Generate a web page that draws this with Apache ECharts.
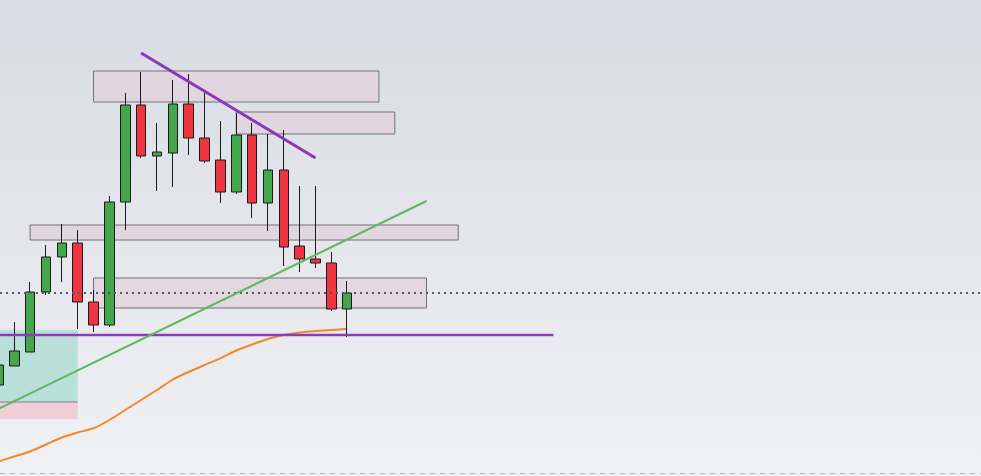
<!DOCTYPE html>
<html>
<head>
<meta charset="utf-8">
<script src="https://cdn.jsdelivr.net/npm/echarts@6/dist/echarts.min.js"></script>
<style>
  html, body { margin: 0; padding: 0; }
  #chart { width: 981px; height: 476px; }
</style>
</head>
<body>
<div id="chart"></div>
<script>
// bar index -> [open, close, low, high]
var candles = [
    [1991, 2011, 1988, 2013],
    [2010, 2025, 2010, 2054],
    [2024, 2084, 2024, 2094],
    [2084, 2119, 2081, 2131],
    [2119, 2133, 2094, 2152],
    [2133, 2074, 2047, 2146],
    [2074, 2051, 2044, 2086],
    [2051, 2174, 2049, 2180],
    [2174, 2271, 2146, 2283],
    [2271, 2220, 2218, 2304],
    [2220, 2224, 2185, 2253],
    [2223, 2272, 2189, 2296],
    [2272, 2238, 2221, 2302],
    [2238, 2215, 2213, 2284],
    [2216, 2184, 2173, 2255],
    [2184, 2241, 2182, 2263],
    [2241, 2173, 2158, 2253],
    [2173, 2206, 2145, 2242],
    [2206, 2129, 2110, 2246],
    [2130, 2117, 2104, 2190],
    [2117, 2113, 2108, 2190],
    [2113, 2067, 2065, 2124],
    [2067, 2083, 2039, 2095]
];
// moving average, one value per bar
var maValues = [1914.5, 1919.5, 1924.5, 1931.5, 1938.5, 1943.5, 1947.7, 1956, 1966, 1976,
    1986, 1996.5, 2004, 2011, 2017.7, 2025.5, 2031.5, 2037, 2041, 2043.5, 2045, 2046, 2047.3];
// zones: [fromBar, toBar, low, high]
var zones = [
    [6, 24, 2274, 2305],
    [15, 25, 2242, 2264],
    [2, 29, 2136, 2151],
    [6, 27, 2068, 2098]
];
// long position tool: [fromBar, toBar, stop, entry, target]
var position = [-2, 5, 1957, 1974, 2046];
var resistLine = [[9, 2323], [20, 2218]];
var supportLine = [[0, 1967], [27, 2175]];
var levelLine = [[-2, 2041], [35, 2041]];
var lastPrice = 2083;
var baseLine = 1903;

var candleData = candles.map(function (c, i) { return [i, c[0], c[1], c[2], c[3]]; });
var maData = maValues.map(function (v, i) { return [i, v]; });

var chart = echarts.init(document.getElementById('chart'));
var option = {
    animation: false,
    backgroundColor: {
        type: 'linear', x: 0, y: 0, x2: 0, y2: 1,
        colorStops: [{offset: 0, color: '#d8dbe3'}, {offset: 1, color: '#f0f1f4'}]
    },
    grid: {left: 0, right: 0, top: 0, bottom: 0},
    xAxis: {type: 'value', min: 0.1, max: 61.97, show: false},
    yAxis: {type: 'value', min: 1900, max: 2376, show: false},
    series: [
        {
            // position tool + zones
            type: 'line', data: [], z: 1, silent: true,
            markArea: {
                silent: true,
                data: [
                    [{coord: [position[0], position[3]], itemStyle: {color: 'rgba(178,221,215,0.85)'}},
                     {coord: [position[1], position[4]]}],
                    [{coord: [position[0], position[2]], itemStyle: {color: 'rgba(240,200,210,0.85)'}},
                     {coord: [position[1], position[3]]}]
                ].concat(zones.map(function (z) {
                    return [{coord: [z[0], z[2]], itemStyle: {color: 'rgba(225,210,222,0.75)', borderColor: '#707078', borderWidth: 1}},
                            {coord: [z[1], z[3]]}];
                }))
            },
            markLine: {
                silent: true, symbol: 'none', label: {show: false},
                data: [
                    {yAxis: lastPrice, lineStyle: {color: '#555a60', width: 2, type: [2, 4]}},
                    {yAxis: baseLine, lineStyle: {color: '#b4b7be', width: 1, type: [5, 5]}}
                ]
            }
        },
        {
            // entry line of the position tool
            type: 'line', data: [[position[0], position[3]], [position[1], position[3]]],
            showSymbol: false, z: 2, silent: true,
            lineStyle: {color: '#7c7c84', width: 1}
        },
        {
            type: 'line', name: 'MA', data: maData, showSymbol: false, z: 3,
            lineStyle: {color: '#f5862a', width: 2}, smooth: 0.2
        },
        {
            type: 'candlestick', data: candleData, z: 4, barWidth: 10,
            encode: {x: 0, y: [1, 2, 3, 4]},
            itemStyle: {
                color: '#43a74b', color0: '#ef3442',
                borderColor: '#1a1a1a', borderColor0: '#1a1a1a', borderWidth: 1
            }
        },
        {
            type: 'line', data: levelLine, showSymbol: false, z: 5,
            lineStyle: {color: '#8a3db5', width: 2.5}
        },
        {
            type: 'line', data: supportLine, showSymbol: false, z: 5,
            lineStyle: {color: '#5fb95f', width: 2}
        },
        {
            type: 'line', data: resistLine, showSymbol: false, z: 5,
            lineStyle: {color: '#8b38b8', width: 3}
        }
    ]
};
chart.setOption(option);
</script>
</body>
</html>
